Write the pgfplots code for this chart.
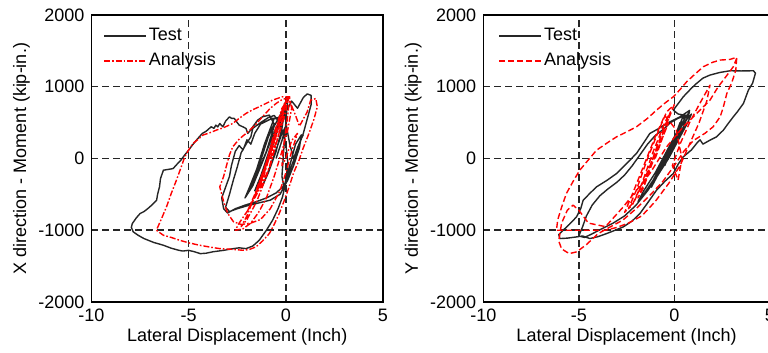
\documentclass[border=0pt]{standalone}
\usepackage{fontspec}
\setmainfont{Liberation Sans}
\usepackage{pgfplots}
\pgfplotsset{compat=1.18}
\pgfplotsset{
  hyst/.style={
    anchor=south west, scale only axis,
    height=143.5pt,
    xmin=-10, xmax=5, ymin=-2000, ymax=2000,
    xtick={-10,-5,0,5}, ytick={-2000,-1000,0,1000,2000},
    /pgf/number format/assume math mode=true,
    /pgf/number format/set thousands separator={},
    tick label style={font=\fontsize{9}{10.8}\selectfont, text=black},
    label style={font=\fontsize{9}{10.8}\selectfont},
    major tick length=0pt,
    axis line style={black, line width=0.75pt},
    grid=major,
    major grid style={black!85, line width=0.75pt, dash pattern=on 3.5pt off 2pt},
    xlabel={Lateral Displacement (Inch)},
    x label style={at={(axis description cs:0.5,0)}, anchor=center, yshift=-17.5pt},
    y label style={at={([xshift=-35pt]axis description cs:0,0.5)}, anchor=center, rotate=0},
    legend cell align=left,
    legend image code/.code={\draw[#1] (0pt,0pt) -- (21pt,0pt);},
    legend style={draw=none, fill=none, at={(axis description cs:0,1)}, anchor=north west,
      yshift=-5pt, inner sep=0pt, row sep=2pt,
      font=\fontsize{9}{10.8}\selectfont,
      nodes={inner sep=1pt, text height=6.5pt, text depth=2pt}},
  },
  testline/.style={black!85, line width=0.7pt, line join=round},
  anaL/.style={red, line width=0.7pt, line join=round, dash pattern=on 3pt off 1pt on 0.8pt off 1pt},
  anaR/.style={red, line width=0.7pt, line join=round, dash pattern=on 3pt off 1.5pt},
}
\begin{document}
\begin{tikzpicture}
\begin{axis}[hyst, at={(45.75pt,25.5pt)}, width=145.75pt,
  ylabel={X direction - Moment (kip-in.)},
  legend style={xshift=5.75pt}]
\addplot[testline] coordinates {
(-0.5,0) (-0.2,250) (0.0,450) (-0.2,350) (-0.6,50) (-1.0,-250) (-1.2,-380) (-0.9,-200)
(-0.5,100) (-0.2,420) (-0.1,600) (-0.4,480) (-0.8,150) (-1.3,-250) (-1.6,-450) (-1.3,-300)
(-0.9,0) (-0.5,330) (-0.2,580) (-0.6,560) (-1.1,200) (-1.5,-150) (-1.9,-420) (-2.1,-550)
(-1.7,-380) (-1.2,-50) (-0.7,300) (-0.3,550) (0.0,800) (0.1,850) (0.0,500) (-0.1,150)
(-0.2,-250) (-0.1,-400) (0.2,-100) (0.5,200) (0.8,330) (0.7,150) (0.4,-100) (0.1,-300)
(-0.3,-500) (-0.8,-580) (-1.4,-620) (-2.0,-660) (-2.5,-700) (-2.9,-740) (-3.1,-680) (-2.9,-500)
(-2.7,-300) (-2.5,-120) (-2.3,80) (-2.0,220) (-1.8,300) (-1.7,420) (-1.3,500) (-0.9,570)
(-0.6,600) (-0.3,500) (0.0,650) (0.3,800) (0.6,700) (0.9,850) (1.1,900) (1.3,880)
(1.3,750) (1.1,550) (0.9,350) (0.7,200) (0.5,50) (0.3,-100) (0.1,-250) (-0.1,-380)
(-0.5,-480) (-1.0,-550) (-1.5,-600) (-2.1,-650) (-2.6,-700) (-3.0,-760) (-3.2,-700) (-3.3,-550)
(-3.1,-400) (-2.9,-250) (-2.8,-100) (-2.6,100) (-2.4,180) (-2.2,120) (-2.0,260) (-1.8,200)
(-1.6,350) (-1.3,480) (-1.0,520) (-0.7,560) (-0.4,550) (-0.2,400) (0.0,200) (0.1,-50)
(0.0,-330) (-0.17,-535) (-0.4,-700) (-0.68,-860) (-1.0,-1000) (-1.37,-1140) (-1.7,-1220) (-2.05,-1256)
(-2.4,-1245) (-2.7,-1256) (-3.2,-1280) (-3.75,-1300) (-4.1,-1320) (-4.4,-1326) (-4.7,-1300) (-5.0,-1280)
(-5.3,-1290) (-5.5,-1280) (-5.9,-1250) (-6.3,-1209) (-6.8,-1170) (-7.3,-1116) (-7.6,-1070) (-7.85,-1023)
(-7.95,-960) (-7.9,-907) (-7.7,-830) (-7.5,-767) (-7.3,-740) (-7.1,-698) (-6.9,-650) (-6.65,-581)
(-6.6,-500) (-6.5,-395) (-6.45,-280) (-6.3,-163) (-6.0,-150) (-5.8,-140) (-5.6,-80) (-5.4,-23)
(-5.2,50) (-5.0,116) (-4.8,190) (-4.6,256) (-4.3,349) (-4.1,380) (-3.84,442) (-3.7,420)
(-3.6,465) (-3.5,440) (-3.4,488) (-3.24,442) (-3.1,520) (-2.9,581) (-2.8,560) (-2.65,558)
(-2.5,500) (-2.4,465) (-2.2,440) (-2.05,419) (-1.96,349) (-1.8,400) (-1.7,442) (-1.45,535)
(-1.2,581) (-0.85,605) (-0.6,480) (-0.9,300) (-1.2,50) (-1.5,-200) (-1.8,-400) (-2.0,-500)
(-1.6,-300) (-1.0,100) (-0.6,450) (-0.3,600) (-0.1,700) (0.0,500) (0.2,200) (0.4,0)
(0.6,150) (0.8,280) (0.9,330)
};
\addlegendentry{Test}
\addplot[anaL] coordinates {
(-0.8,0) (-0.4,300) (-0.1,600) (-0.3,400) (-0.8,-100) (-1.3,-400) (-1.6,-550) (-1.2,-250)
(-0.7,200) (-0.3,550) (0.0,750) (-0.2,600) (-0.7,150) (-1.2,-300) (-1.7,-600) (-2.0,-750)
(-1.6,-500) (-1.0,-50) (-0.5,400) (-0.1,750) (0.1,850) (0.0,650) (-0.5,200) (-1.0,-250)
(-1.5,-600) (-2.0,-850) (-2.3,-950) (-2.0,-800) (-1.5,-450) (-1.0,-50) (-0.6,350) (-0.2,700)
(0.2,860) (0.1,600) (-0.1,200) (-0.2,-100) (0.0,0) (0.3,250) (0.6,350) (0.3,100)
(0.0,-200) (-0.3,-450) (-0.8,-700) (-1.3,-850) (-1.8,-900) (-2.3,-920) (-2.7,-880) (-3.0,-760)
(-3.2,-600) (-3.4,-395) (-3.2,-250) (-3.07,-116) (-2.9,50) (-2.73,163) (-2.4,270) (-2.05,349)
(-1.6,460) (-1.2,581) (-0.8,700) (-0.5,767) (-0.2,820) (0.0,837) (0.2,800) (0.5,600)
(0.7,450) (0.9,550) (1.1,650) (1.28,814) (1.4,820) (1.54,837) (1.62,721) (1.45,550)
(1.19,349) (0.9,150) (0.68,-23) (0.4,-200) (0.17,-395) (-0.1,-600) (-0.34,-767) (-0.6,-920)
(-0.85,-1047) (-1.2,-1150) (-1.54,-1233) (-1.9,-1270) (-2.22,-1279) (-2.8,-1265) (-3.41,-1256) (-3.9,-1235)
(-4.44,-1209) (-5.0,-1175) (-5.46,-1140) (-5.9,-1100) (-6.3,-1070) (-6.66,-1000) (-6.4,-840) (-6.14,-674)
(-5.9,-490) (-5.63,-302) (-5.4,-130) (-5.2,23) (-5.0,120) (-4.78,209) (-4.5,270) (-4.27,326)
(-3.9,360) (-3.58,395) (-3.2,430) (-2.73,488) (-2.4,560) (-2.05,628) (-1.7,680) (-1.37,721)
(-1.0,770) (-0.68,814) (-0.4,840) (-0.17,860) (0.17,860) (0.3,700) (0.1,400) (-0.2,100)
(-0.6,-250) (-1.0,-550) (-1.4,-750) (-1.8,-900) (-2.2,-980) (-2.6,-1000) (-2.4,-900) (-1.9,-700)
(-1.3,-350) (-0.8,50) (-0.4,400) (-0.1,650) (0.0,800)
};
\addlegendentry{Analysis}
\end{axis}
\begin{axis}[hyst, at={(241.65pt,25.5pt)}, width=143.25pt,
  ylabel={Y direction - Moment (kip-in.)},
  legend style={xshift=7.5pt}]
\addplot[testline] coordinates {
(-0.5,-100) (-0.2,100) (0.1,300) (0.3,500) (0.1,350) (-0.3,50) (-0.8,-200) (-1.2,-400)
(-0.9,-250) (-0.5,0) (0.0,250) (0.4,550) (0.6,600) (0.3,400) (-0.2,100) (-0.7,-150)
(-1.2,-350) (-1.5,-480) (-1.3,-400) (-0.8,-150) (-0.3,150) (0.2,400) (0.6,580) (0.8,650)
(0.5,450) (0.0,200) (-0.6,-100) (-1.1,-300) (-1.6,-500) (-1.9,-600) (-1.6,-450) (-1.0,-200)
(-0.5,50) (0.0,300) (0.5,500) (0.9,620) (0.7,500) (0.2,250) (-0.3,0) (-0.9,-250)
(-1.4,-450) (-2.0,-650) (-2.6,-800) (-3.2,-900) (-3.8,-980) (-4.3,-1050) (-4.7,-1100) (-5.0,-1080)
(-4.8,-950) (-4.6,-800) (-4.3,-650) (-3.9,-520) (-3.5,-430) (-3.0,-330) (-2.6,-230) (-2.2,-100)
(-1.8,50) (-1.4,200) (-1.0,320) (-0.6,400) (-0.2,500) (0.2,560) (0.6,600) (0.2,620)
(-0.05,674) (0.47,860) (0.9,980) (1.17,1047) (1.5,1120) (1.87,1163) (2.4,1200) (2.92,1223)
(3.5,1220) (4.14,1223) (4.25,1190) (4.1,1050) (3.88,953) (3.62,767) (3.3,650) (3.09,581)
(2.8,480) (2.57,395) (2.2,300) (1.87,256) (1.5,200) (1.35,260) (1.2,220) (0.9,120)
(0.47,23) (0.2,-80) (-0.05,-209) (-0.5,-320) (-0.93,-442) (-1.4,-620) (-1.8,-767) (-2.2,-870)
(-2.67,-953) (-3.1,-1000) (-3.55,-1047) (-4.0,-1090) (-4.42,-1116) (-4.8,-1080) (-5.12,-1093) (-5.6,-1110)
(-5.99,-1116) (-6.05,-1060) (-5.82,-1000) (-5.5,-920) (-5.12,-814) (-4.9,-700) (-4.77,-581) (-4.4,-480)
(-4.07,-395) (-3.5,-300) (-3.02,-209) (-2.5,-70) (-1.98,70) (-1.6,220) (-1.28,349) (-0.8,420)
(-0.4,488) (0.0,540) (0.3,581) (0.82,674)
};
\addlegendentry{Test}
\addplot[anaR] coordinates {
(-1.0,0) (-0.6,300) (-0.3,500) (-0.6,300) (-1.2,-100) (-1.6,-400) (-1.9,-550) (-1.5,-300)
(-1.0,100) (-0.5,450) (-0.2,650) (-0.5,500) (-1.1,100) (-1.7,-350) (-2.2,-650) (-2.4,-700)
(-2.0,-450) (-1.4,0) (-0.8,400) (-0.4,650) (0.0,750) (-0.3,550) (-0.9,150) (-1.5,-250)
(-2.1,-600) (-2.6,-750) (-2.2,-500) (-1.6,-100) (-1.0,300) (-0.5,600) (0.1,400) (0.4,0)
(0.2,-300) (-0.1,-100) (0.3,200) (0.8,500) (1.3,750) (1.87,1023) (1.7,800) (1.3,500)
(0.8,200) (0.3,-100) (-0.3,-350) (-1.0,-600) (-1.7,-800) (-2.4,-900) (-3.0,-960) (-3.6,-1000)
(-4.4,-1000) (-5.2,-1000) (-6.17,-1000) (-6.1,-850) (-5.9,-680) (-5.65,-488) (-5.3,-320) (-4.95,-163)
(-4.5,-20) (-4.07,116) (-3.5,220) (-3.02,302) (-2.5,370) (-1.98,442) (-1.4,560) (-0.93,674)
(-0.5,770) (-0.05,860) (0.3,960) (0.65,1070) (1.1,1180) (1.52,1279) (2.0,1340) (2.4,1372)
(2.9,1380) (3.27,1410) (3.22,1230) (3.0,1050) (2.75,906) (2.55,700) (2.4,580) (2.03,441)
(1.6,350) (1.0,250) (0.5,100) (0.0,-100) (-0.6,-320) (-1.3,-520) (-2.0,-700) (-2.7,-860)
(-3.4,-960) (-4.0,-1050) (-4.6,-1200) (-5.1,-1300) (-5.5,-1326) (-5.9,-1260) (-6.05,-1150) (-5.9,-900)
(-5.6,-720) (-5.3,-650) (-5.0,-720) (-4.5,-900) (-3.6,-950) (-2.67,-674) (-2.0,-450) (-1.28,-209)
(-0.4,163) (0.47,442) (1.17,628) (1.87,814) (2.3,1000) (2.57,1093) (3.09,1279) (3.27,1400)
};
\addlegendentry{Analysis}
\end{axis}
\pgfresetboundingbox
\useasboundingbox (0,0) rectangle (384pt,176.5pt);
\end{tikzpicture}
\end{document}
